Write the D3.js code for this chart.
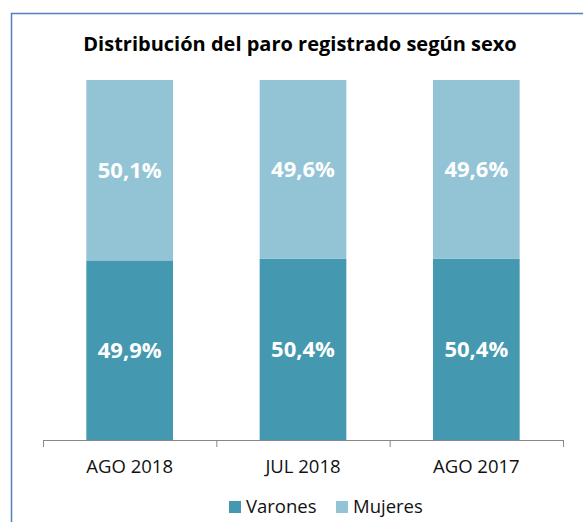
<!DOCTYPE html>
<html><head><meta charset="utf-8">
<script src="https://cdn.jsdelivr.net/npm/d3@7"></script>
<style>body{margin:0;background:#fff}svg{display:block}</style>
</head><body>
<svg id="c" width="583" height="522"></svg>
<script>
const categories = ["AGO 2018", "JUL 2018", "AGO 2017"];
const varones = [49.9, 50.4, 50.4];
const mujeres = [50.1, 49.6, 49.6];
const seriesNames = ["Varones", "Mujeres"];
const colors = ["#4499b0", "#93c4d6"];
const title = "Distribución del paro registrado según sexo";

const svg = d3.select("#c");
const font = "'Open Sans', sans-serif";

// frame
svg.append("path").attr("d","M11.5,523 V13.5 H584").attr("fill","none").attr("stroke","#4f81bd").attr("stroke-width",1.5);

svg.append("text").attr("x",300).attr("y",51).attr("text-anchor","middle")
  .attr("font-family",font).attr("font-weight",700).attr("font-size",20).attr("fill","#000").text(title);

const x = d3.scaleBand().domain(categories).range([43,563]).paddingInner(0.5).paddingOuter(0.25);
const y = d3.scaleLinear().domain([0,100]).range([440,80]);

const data = categories.map((c,i)=>({c, v:varones[i], m:mujeres[i]}));
const stack = d3.stack().keys(["v","m"])(data);

stack.forEach((layer,li)=>{
  svg.append("g").selectAll("rect").data(layer).join("rect")
    .attr("x",d=>x(d.data.c)).attr("width",x.bandwidth())
    .attr("y",d=>y(d[1])).attr("height",d=>y(d[0])-y(d[1]))
    .attr("fill",colors[li]);
  svg.append("g").selectAll("text").data(layer).join("text")
    .attr("x",d=>x(d.data.c)+x.bandwidth()/2)
    .attr("y",d=>(y(d[0])+y(d[1]))/2+8)
    .attr("text-anchor","middle").attr("font-family",font).attr("font-weight",700)
    .attr("font-size",22).attr("fill","#fff")
    .text(d=>(d[1]-d[0]).toFixed(1).replace(".",",")+"%");
});

// axis
const xa = d3.scalePoint().domain(d3.range(4)).range([43,563]);
const g = svg.append("g");
g.append("line").attr("x1",43).attr("x2",563).attr("y1",440.5).attr("y2",440.5).attr("stroke","#888").attr("stroke-width",1);
g.selectAll("line.t").data(d3.range(4)).join("line").attr("class","t")
  .attr("x1",d=>xa(d)+0.5).attr("x2",d=>xa(d)+0.5).attr("y1",440).attr("y2",447).attr("stroke","#888");
g.selectAll("text").data(categories).join("text")
  .attr("x",d=>x(d)+x.bandwidth()/2).attr("y",473).attr("text-anchor","middle")
  .attr("font-family",font).attr("font-size",18.5).attr("fill","#111").text(d=>d);

// legend
const lx = [229, 336];
seriesNames.forEach((n,i)=>{
  svg.append("rect").attr("x",lx[i]).attr("y",501).attr("width",12).attr("height",12).attr("fill",colors[i]);
  svg.append("text").attr("x",lx[i]+17).attr("y",513).attr("font-family",font).attr("font-size",18.5).attr("fill","#111").text(n);
});
</script>
</body></html>
